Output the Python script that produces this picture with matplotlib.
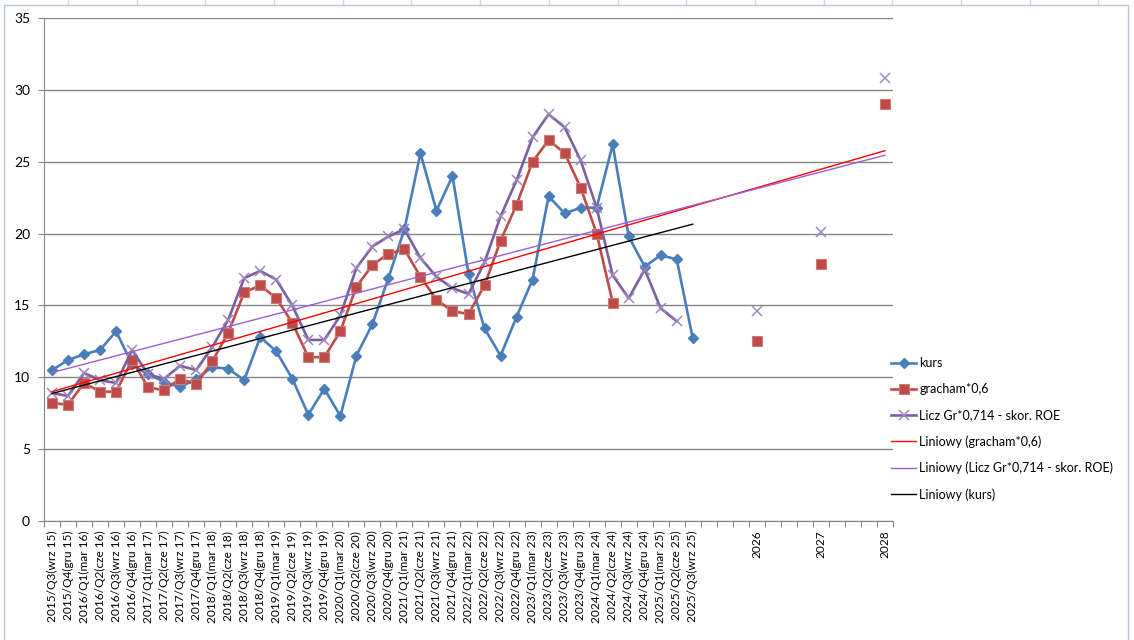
import numpy as np
import matplotlib
matplotlib.use("Agg")
import matplotlib.pyplot as plt
from matplotlib.lines import Line2D

plt.rcParams['font.family'] = ['Lato', 'DejaVu Sans']

# --- data -------------------------------------------------------------
months = {"Q1": "mar", "Q2": "cze", "Q3": "wrz", "Q4": "gru"}
quarters = [(2015, "Q3"), (2015, "Q4")] \
    + [(y, q) for y in range(2016, 2025) for q in ("Q1", "Q2", "Q3", "Q4")] \
    + [(2025, "Q1"), (2025, "Q2"), (2025, "Q3")]
tick_labels = [f"{y}/{q}({months[q]} {y % 100})" for y, q in quarters]
tick_labels += ["", "", "", "2026", "", "", "", "2027", "", "", "", "2028"]
n_cat = len(tick_labels)

kurs_vals = [10.5, 11.2, 11.6, 11.9, 13.2, 10.9, 10.2, 9.7, 9.3, 9.9,
             10.7, 10.6, 9.8, 12.8, 11.8, 9.9, 7.4, 9.2, 7.3, 11.5,
             13.7, 16.9, 20.3, 25.6, 21.6, 24.0, 17.2, 13.4, 11.5, 14.2,
             16.8, 22.6, 21.4, 21.8, 21.8, 26.2, 19.8, 17.7, 18.5, 18.2,
             12.7]
gracham_vals = [8.2, 8.1, 9.6, 9.0, 9.0, 11.2, 9.3, 9.1, 9.9, 9.5,
                11.1, 13.1, 15.9, 16.4, 15.5, 13.8, 11.4, 11.4, 13.2, 16.3,
                17.8, 18.6, 18.9, 17.0, 15.4, 14.6, 14.4, 16.4, 19.5, 22.0,
                25.0, 26.5, 25.6, 23.2, 20.0, 15.2]
licz_vals = [8.9, 8.7, 10.3, 9.8, 9.6, 11.9, 10.2, 9.9, 10.8, 10.5,
             12.1, 14.0, 16.9, 17.4, 16.8, 15.0, 12.6, 12.6, 14.3, 17.6,
             19.1, 19.8, 20.3, 18.3, 17.0, 16.2, 15.8, 18.0, 21.2, 23.7,
             26.7, 28.3, 27.4, 25.1, 21.8, 17.1, 15.5, 17.5, 14.8, 13.9]
future_labels = ["2026", "2027", "2028"]
gracham_future = [12.5, 17.9, 29.0]
licz_future = [14.6, 20.1, 30.8]


def full_series(vals, future):
    s = np.full(n_cat, np.nan)
    s[:len(vals)] = vals
    for lab, v in zip(future_labels, future):
        s[tick_labels.index(lab)] = v
    return s


kurs = full_series(kurs_vals, [np.nan] * 3)
gracham = full_series(gracham_vals, gracham_future)
licz = full_series(licz_vals, licz_future)


def trend(y):
    # linear trend like Excel: x = category position, blanks skipped
    x = np.arange(n_cat)
    m = ~np.isnan(y)
    a, b = np.polyfit(x[m], y[m], 1)
    xs = np.array([x[m][0], x[m][-1]])
    return xs, a * xs + b


# --- figure -----------------------------------------------------------
W, H = 1134, 640
fig = plt.figure(figsize=(W / 100, H / 100), dpi=100)

# sheet grid above the chart and the chart border
for xv in np.arange(68, W, 68.7):
    fig.add_artist(Line2D([xv / W, xv / W], [1, 1 - 5 / H], color='#D0D7E5', lw=1))
fig.add_artist(Line2D([4 / W, 4 / W, 1128 / W, 1128 / W], [0, 1 - 5 / H, 1 - 5 / H, 0],
                      color='#B9C4D5', lw=1))

ax = fig.add_axes([44 / W, 119 / H, 849 / W, 503 / H])
x = np.arange(n_cat)

blue, red, purple = '#4A7EBB', '#BE4B48', '#7D5FA0'

ax.plot(x, kurs, color=blue, lw=1.9, marker='D', ms=5.5, mfc=blue, mec=blue,
        label='kurs', zorder=4)
ax.plot(x, gracham, color=red, lw=1.9, marker='s', ms=7, mfc=red, mec='#D07A78',
        mew=0.8, label='gracham*0,6', zorder=4)
ax.plot(x, licz, color=purple, lw=1.9, marker='x', ms=7, mec='#9C88BE', mew=1.1,
        label='Licz Gr*0,714 - skor. ROE', zorder=4)

tx, ty = trend(gracham)
ax.plot(tx, ty, color='#FF0000', lw=1.0, label='Liniowy (gracham*0,6)', zorder=5)
tx, ty = trend(licz)
ax.plot(tx, ty, color='#9B5FD0', lw=1.0, label='Liniowy (Licz Gr*0,714 - skor. ROE)', zorder=5)
tx, ty = trend(kurs)
ax.plot(tx, ty, color='#000000', lw=1.0, label='Liniowy (kurs)', zorder=5)

ax.set_xlim(-0.5, n_cat - 0.5)
ax.set_ylim(0, 35)
ax.set_yticks(np.arange(0, 36, 5))
ax.grid(axis='y', color='#868686', lw=1)
ax.set_axisbelow(True)
for s in ('top', 'right'):
    ax.spines[s].set_visible(False)
for s in ('left', 'bottom'):
    ax.spines[s].set_color('#868686')
ax.tick_params(axis='y', direction='out', length=4, color='#868686',
               labelsize=10, pad=6)

ax.set_xticks(np.arange(-0.5, n_cat, 1))
ax.set_xticklabels([])
ax.set_xticks(x, minor=True)
ax.set_xticklabels(tick_labels, minor=True, rotation=90, fontsize=8.6)
ax.tick_params(axis='x', which='major', direction='out', length=4, color='#868686')
ax.tick_params(axis='x', which='minor', length=0, pad=7)

fig.legend(loc='upper left', bbox_to_anchor=(886 / W, 1 - 352 / H), frameon=False,
           fontsize=9, handlelength=2.0, handletextpad=0.25, labelspacing=1.12,
           borderaxespad=0)

fig.savefig('out.png', dpi=100)
